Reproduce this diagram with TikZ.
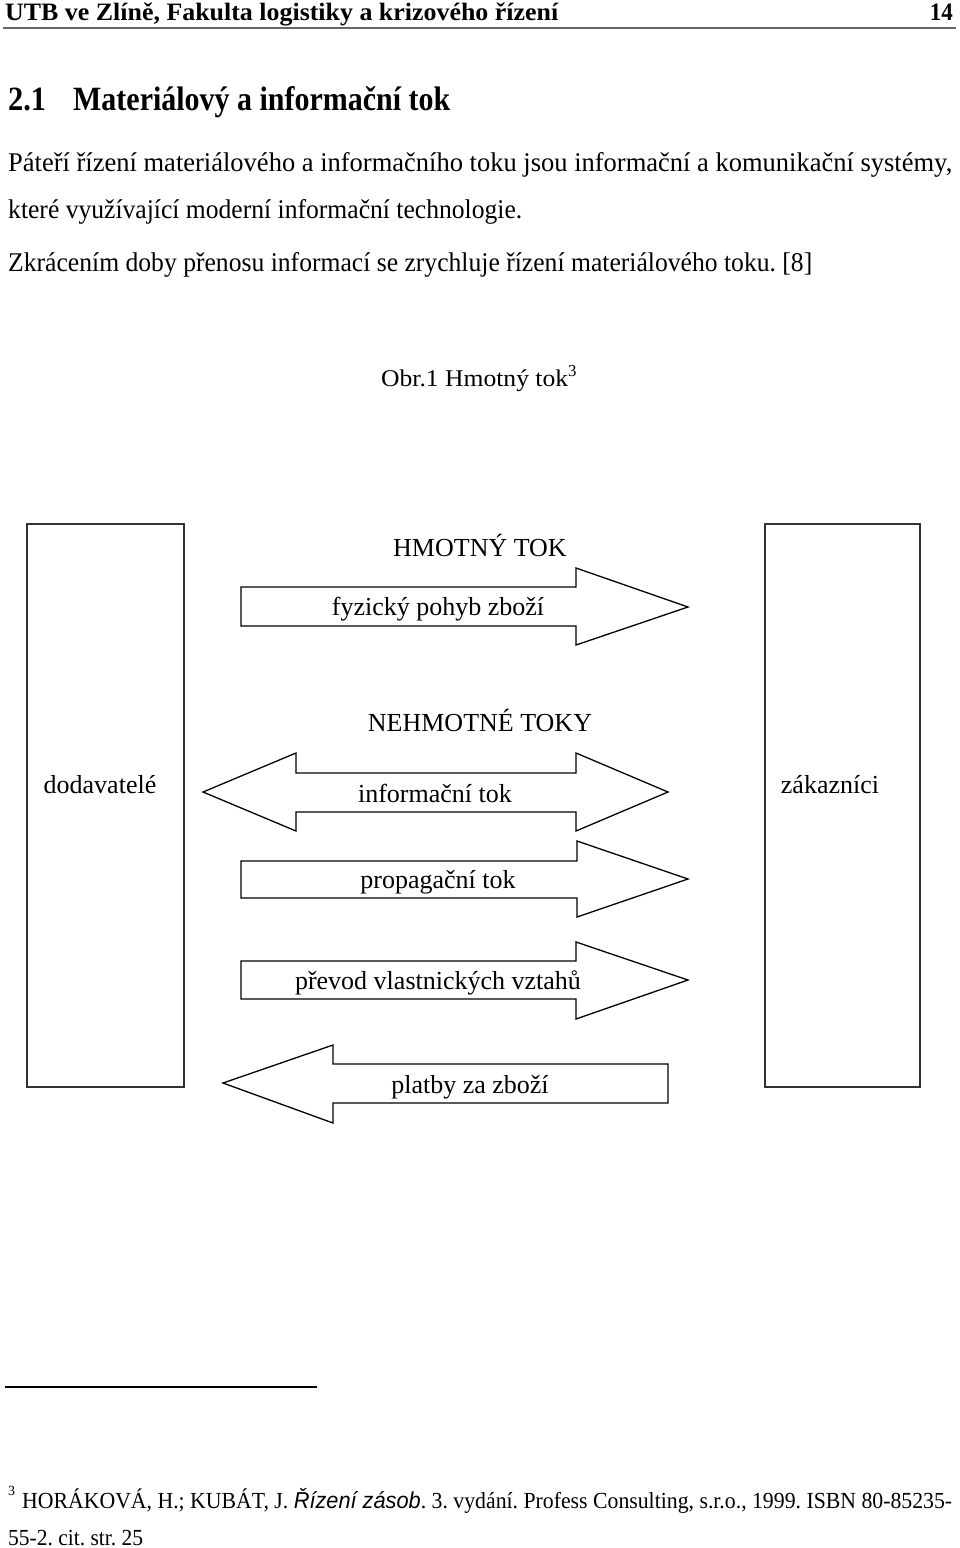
\documentclass[tikz,border=0pt]{standalone}
\usepackage{fontspec}
\setmainfont{Liberation Serif}
\setsansfont{Liberation Sans}
\usepackage{graphicx}
\frenchspacing
\newcommand{\fitw}[2]{\resizebox{#1}{\height}{#2}}
\begin{document}
\begin{tikzpicture}[x=1pt,y=-1pt,
  txt/.style={inner sep=0pt, font=\fontsize{26}{30}\selectfont},
  lbl/.style={txt, anchor=base},
  lft/.style={txt, anchor=base west},
  party/.style={draw=black!80, line width=1.8pt, inner sep=0pt},
  flow/.style={draw=black, line width=1.3pt, line join=miter, fill=white},
  rulebar/.style={draw=black!60, line width=2pt}]
\useasboundingbox (0,0) rectangle (960,1548);
\fill[white] (0,0) rectangle (960,1548);

% header
\node[lft, font=\fontsize{25}{28}\selectfont\bfseries] (hdr) at (5,20) {\fitw{553pt}{UTB ve Zlíně, Fakulta logistiky a krizového řízení}};
\node[txt, anchor=base east, font=\fontsize{25}{28}\selectfont\bfseries] (pg) at (953,20) {\fitw{23pt}{14}};
\coordinate (hrA) at (3,28);
\coordinate (hrB) at (956,28);
\draw[rulebar] (hrA) -- (hrB);

% heading
\node[lft, font=\fontsize{34}{38}\selectfont\bfseries] (secno) at (8,110) {\fitw{38pt}{2.1}};
\node[lft, font=\fontsize{34}{38}\selectfont\bfseries] (sec) at (73,110) {\fitw{377pt}{Materiálový a informační tok}};

% paragraph
\node[lft, font=\fontsize{27}{30}\selectfont] (p1) at (8,171) {\fitw{944pt}{Páteří řízení materiálového a informačního toku jsou informační a komunikační systémy,}};
\node[lft, font=\fontsize{27}{30}\selectfont] (p2) at (8,218) {\fitw{514pt}{které využívající moderní informační technologie.}};
\node[lft, font=\fontsize{27}{30}\selectfont] (p3) at (8,271) {\fitw{804pt}{Zkrácením doby přenosu informací se zrychluje řízení materiálového toku. [8]}};

% caption
\node[lft, font=\fontsize{24}{28}\selectfont] (cap) at (381,386) {\fitw{187pt}{Obr.1 Hmotný tok}\textsuperscript{3}};

% parties
\node[party, minimum width=157pt, minimum height=563pt] (dod) at (105.5,805.5) {};
\node[party, minimum width=155pt, minimum height=563pt] (zak) at (842.5,805.5) {};
\node[lbl] (dodl) at (100,793) {dodavatelé};
\node[lbl] (zakl) at (830,793) {zákazníci};

% group titles
\node[lbl] (hm) at (480,556) {HMOTNÝ TOK};
\node[lbl] (nh) at (480,731) {NEHMOTNÉ TOKY};

% flow arrows
\draw[flow] (241,587) -- (576,587) -- (576,568) -- (688,607) -- (576,645) -- (576,626) -- (241,626) -- cycle;
\node[lbl] (f1) at (438,615) {fyzický pohyb zboží};

\draw[flow] (203,792) -- (296,753) -- (296,773) -- (576,773) -- (576,753) -- (668,792) -- (576,831) -- (576,812) -- (296,812) -- (296,831) -- cycle;
\node[lbl] (f2) at (435,802) {informační tok};

\draw[flow] (241,861) -- (577,861) -- (577,841) -- (688,879) -- (577,917) -- (577,898) -- (241,898) -- cycle;
\node[lbl] (f3) at (438,888) {propagační tok};

\draw[flow] (241,961) -- (576,961) -- (576,942) -- (688,980) -- (576,1019) -- (576,999) -- (241,999) -- cycle;
\node[lbl] (f4) at (438,989) {převod vlastnických vztahů};

\draw[flow] (223,1083) -- (333,1045) -- (333,1064) -- (668,1064) -- (668,1103) -- (333,1103) -- (333,1123) -- cycle;
\node[lbl] (f5) at (470,1093) {platby za zboží};

% footnote
\coordinate (fnA) at (5,1387);
\coordinate (fnB) at (317,1387);
\draw[line width=1.2pt] (fnA) -- (fnB);
\node[lft, font=\fontsize{14}{16}\selectfont] (fnm) at (8,1495) {3};
\node[lft, font=\fontsize{23}{28}\selectfont] (fn1) at (22,1508) {\fitw{930pt}{HORÁKOVÁ, H.; KUBÁT, J. {\sffamily\itshape Řízení zásob}. 3. vydání. Profess Consulting, s.r.o., 1999. ISBN 80-85235-}};
\node[lft, font=\fontsize{23}{28}\selectfont] (fn2) at (8,1545) {\fitw{135pt}{55-2. cit. str. 25}};
\end{tikzpicture}
\end{document}
